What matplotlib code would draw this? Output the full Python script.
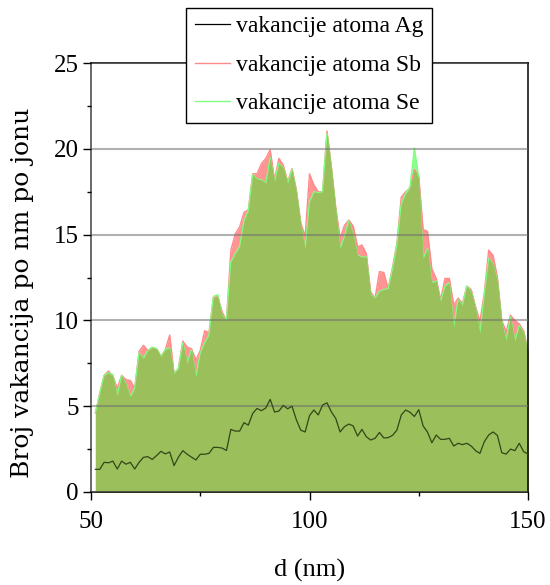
import numpy as np
import matplotlib.pyplot as plt
from matplotlib.ticker import MultipleLocator

plt.rcParams['font.family'] = ['Liberation Serif', 'DejaVu Serif']

# depth in nm, one sample per nm
d = np.arange(51, 151)

ag = [1.32, 1.32, 1.73, 1.70, 1.80, 1.34, 1.80, 1.62, 1.73, 1.34,
      1.73, 2.02, 2.06, 1.90, 2.12, 2.37, 2.22, 2.33, 1.54, 2.03,
      2.41, 2.20, 2.03, 1.87, 2.20, 2.20, 2.25, 2.60, 2.60, 2.56,
      2.42, 3.65, 3.55, 3.55, 4.04, 3.90, 4.58, 4.87, 4.74, 4.90,
      5.40, 4.66, 4.72, 5.05, 4.85, 5.00, 4.20, 3.60, 3.50, 4.45,
      4.78, 4.49, 5.07, 5.20, 4.67, 4.29, 3.50, 3.81, 3.96, 3.85,
      3.26, 3.65, 3.22, 3.03, 3.13, 3.47, 3.15, 3.17, 3.30, 3.61,
      4.49, 4.78, 4.65, 4.40, 4.80, 3.85, 3.49, 2.87, 3.32, 3.07,
      3.07, 3.13, 2.68, 2.84, 2.76, 2.84, 2.68, 2.41, 2.25, 2.93,
      3.32, 3.50, 3.30, 2.29, 2.21, 2.50, 2.41, 2.84, 2.35, 2.21]

sb = [4.60, 5.75, 6.80, 7.05, 6.75, 6.05, 6.80, 6.55, 6.50, 6.05,
      8.20, 8.55, 8.25, 8.40, 8.35, 7.90, 8.30, 9.15, 6.90, 7.20,
      8.80, 8.45, 8.35, 7.70, 8.25, 9.40, 9.30, 11.30, 11.40, 10.50,
      10.00, 14.10, 15.05, 15.45, 16.30, 16.45, 18.55, 18.55, 19.15, 19.45,
      19.95, 18.20, 19.45, 19.05, 18.10, 18.85, 17.60, 15.70, 14.90, 18.55,
      17.90, 17.50, 17.50, 21.05, 18.95, 16.60, 14.80, 15.55, 15.85, 15.50,
      14.30, 14.40, 13.90, 11.65, 11.30, 12.85, 12.80, 11.85, 13.10, 14.50,
      17.20, 17.50, 17.70, 18.80, 18.40, 15.30, 15.20, 13.00, 12.45, 11.20,
      12.45, 12.45, 10.90, 11.30, 11.00, 12.00, 11.80, 10.80, 9.95, 11.60,
      14.10, 13.80, 12.50, 10.00, 9.35, 10.30, 10.00, 9.80, 9.40, 8.25]

se = [4.60, 5.75, 6.80, 6.95, 6.85, 5.60, 6.80, 6.30, 5.55, 6.05,
      8.10, 7.80, 8.25, 8.45, 8.35, 7.90, 8.30, 8.40, 6.90, 7.20,
      8.70, 7.50, 8.30, 6.70, 8.10, 8.70, 9.15, 11.40, 11.50, 10.30,
      10.00, 13.40, 13.90, 14.30, 15.80, 16.40, 18.50, 18.25, 18.20, 18.00,
      19.50, 18.10, 19.15, 18.90, 18.00, 18.80, 17.50, 15.60, 14.20, 16.90,
      17.50, 17.45, 17.50, 20.90, 18.90, 16.50, 14.20, 14.90, 15.80, 15.00,
      13.80, 13.70, 13.70, 11.50, 11.30, 11.70, 11.80, 11.85, 13.00, 14.40,
      16.80, 17.40, 17.80, 20.05, 18.30, 13.60, 14.20, 12.20, 12.30, 11.10,
      12.00, 12.20, 9.60, 11.20, 10.90, 12.00, 11.70, 10.70, 9.25, 11.50,
      13.60, 13.30, 12.30, 9.90, 8.85, 10.20, 8.80, 9.70, 9.30, 8.20]

ag = np.array(ag)
sb = np.array(sb)
se = np.array(se)

fig = plt.figure(figsize=(5.5, 5.85), dpi=100)
ax = fig.add_axes([0.1655, 0.159, 0.7945, 0.733])

ax.fill_between(d, 0, sb, color='#ff9494', lw=0, zorder=1)
ax.fill_between(d, 0, se, color='#8cff8c', lw=0, zorder=1)
ax.fill_between(d, 0, np.minimum(sb, se), color='#9bbf5a', lw=0, zorder=1.1)
l_ag, = ax.plot(d, ag, color='black', lw=0.9, label='vakancije atoma Ag', zorder=3)
ax.plot(d, sb, color='#ff8a8a', lw=1.0, label='vakancije atoma Sb', zorder=1.05)
ax.plot(d, se, color='#80ff80', lw=1.0, label='vakancije atoma Se', zorder=1.05)

ax.set_xlim(50, 150)
ax.set_ylim(0, 25)
ax.set_xticks([50, 100, 150])
ax.xaxis.set_minor_locator(MultipleLocator(25))
ax.set_yticks([0, 5, 10, 15, 20, 25])
ax.yaxis.set_minor_locator(MultipleLocator(2.5))
ax.tick_params(which='major', direction='out', length=6, width=1, labelsize=18)
ax.tick_params(which='minor', direction='out', length=3, width=1)
ax.tick_params(axis='x', which='major', pad=8)
ax.tick_params(axis='y', which='major', pad=3)
ax.tick_params(right=False, top=False, which='both')

ax.yaxis.grid(True, color='#707070', alpha=0.55, lw=1.5)
ax.set_axisbelow(False)

for s in ax.spines.values():
    s.set_linewidth(1.1)
ax.spines['left'].set_color('#404040')

ax.set_xlabel('d (nm)', fontsize=19)
ax.xaxis.set_label_coords(0.5, -0.155)
ax.set_ylabel('Broj vakancija po nm po jonu', fontsize=18, family='DejaVu Serif')
ax.yaxis.set_label_coords(-0.13, 0.465)

leg = fig.legend(loc='upper center', bbox_to_anchor=(0.562, 0.987),
                 fontsize=17, frameon=True, fancybox=False, framealpha=1,
                 edgecolor='black', handlelength=1.5, borderpad=0.35,
                 labelspacing=0.72, handletextpad=0.25, borderaxespad=0)
leg.get_frame().set_linewidth(1.0)
leg.set_zorder(10)

# the Ag curve looks darker green under the filled areas
l_ag.set_color('#33461a')

fig.savefig('out.png', dpi=100)
